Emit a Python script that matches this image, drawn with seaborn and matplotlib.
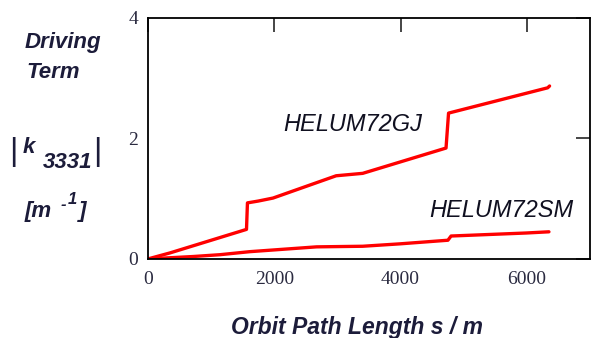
import matplotlib
matplotlib.use("Agg")
import matplotlib.pyplot as plt
import seaborn as sns
import pandas as pd

# cumulative driving term |k3331| along the orbit
gj_s = [0, 350, 1560, 1575, 1745, 1980, 2980, 3400, 4720, 4760, 6330, 6360]
gj_k = [0.0, 0.10, 0.49, 0.93, 0.96, 1.01, 1.38, 1.42, 1.84, 2.42, 2.84, 2.87]
sm_s = [0, 720, 1140, 1610, 2670, 3400, 3990, 4750, 4800, 5990, 6350]
sm_k = [0.0, 0.04, 0.07, 0.12, 0.20, 0.21, 0.25, 0.31, 0.38, 0.43, 0.45]

x_ticks = [0, 2000, 4000, 6000]
y_ticks = [0, 2, 4]

df = pd.concat([
    pd.DataFrame({"s": gj_s, "k": gj_k, "lattice": "HELUM72GJ"}),
    pd.DataFrame({"s": sm_s, "k": sm_k, "lattice": "HELUM72SM"}),
])

sns.set_style("white")
plt.rcParams["font.family"] = ["Liberation Sans", "DejaVu Sans"]

fig = plt.figure(figsize=(5.92, 3.38), dpi=100)
ax = fig.add_axes([0.25, 0.234, 0.7466, 0.713])

sns.lineplot(data=df, x="s", y="k", hue="lattice", units="lattice",
             estimator=None, sort=False, palette=["#ff0000", "#ff0000"],
             linewidth=2.4, legend=False, ax=ax)

ax.set_xlim(0, 7000)
ax.set_ylim(0, 4)
ax.set_xticks(x_ticks)
ax.set_yticks(y_ticks)
ax.set_xlabel("")
ax.set_ylabel("")
ax.tick_params(direction="in", length=10, width=1.2, top=True, right=True,
               labelsize=14, labelcolor="#2a2a40", pad=7)
ax.tick_params(axis="x", pad=9)
for lab in ax.get_xticklabels() + ax.get_yticklabels():
    lab.set_family(["Liberation Serif", "DejaVu Serif"])
for sp in ax.spines.values():
    sp.set_color("black")
    sp.set_linewidth(1.3)

lbl = dict(fontsize=17, style="italic", color="#101020", ha="center", va="center")
ax.text(3250, 2.23, "HELUM72GJ", **lbl)
ax.text(5600, 0.80, "HELUM72SM", **lbl)

side = dict(fontsize=16, style="italic", weight="bold", color="#1c1c3a")
fig.text(0.042, 0.875, "Driving", va="center", **side)
fig.text(0.045, 0.785, "Term", va="center", **side)
fig.text(0.016, 0.55, "|", fontsize=23, color="#1c1c3a", va="center")
fig.text(0.038, 0.565, "k", va="center", **side)
fig.text(0.072, 0.52, "3331", va="center", **side)
fig.text(0.158, 0.55, "|", fontsize=23, color="#1c1c3a", va="center")
fig.text(0.042, 0.375, "[m", va="center", **side)
fig.text(0.102, 0.395, "-", fontsize=12, style="italic", weight="bold", color="#1c1c3a", va="center")
fig.text(0.115, 0.41, "1", fontsize=12, style="italic", weight="bold", color="#1c1c3a", va="center")
fig.text(0.133, 0.375, "]", va="center", **side)

fig.text(0.603, 0.032, "Orbit Path Length s / m", ha="center", va="center",
         **{**side, "fontsize": 16.5})

fig.savefig("out.png", dpi=100)
